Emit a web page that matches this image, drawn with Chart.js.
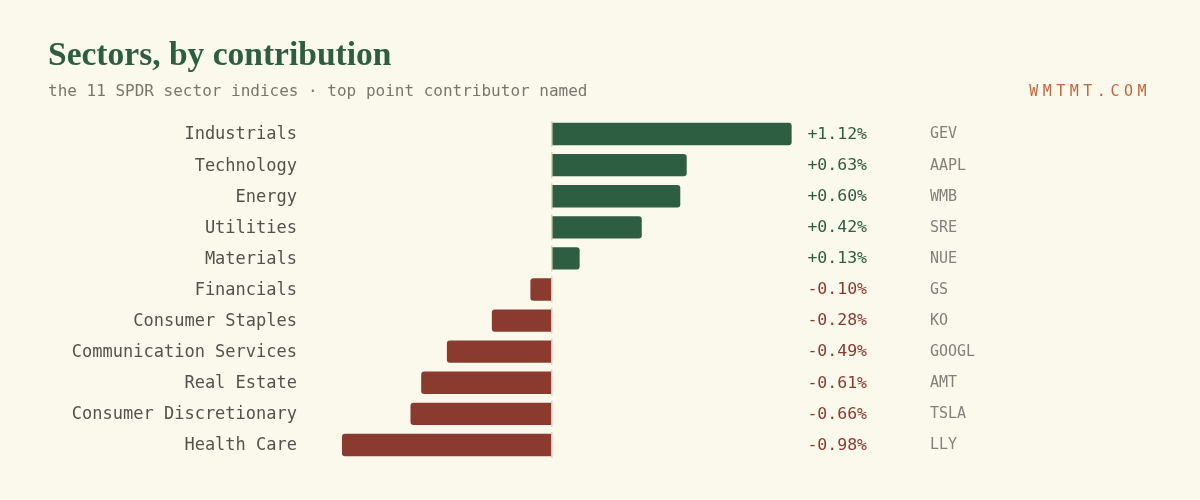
<!DOCTYPE html>
<html>
<head>
<meta charset="utf-8">
<script src="https://cdn.jsdelivr.net/npm/chart.js@4.4.1/dist/chart.umd.min.js"></script>
<style>
  html, body { margin: 0; padding: 0; background: #fbf8ec; }
  #wrap { position: relative; width: 1200px; height: 500px; overflow: hidden; }
  #title { position: absolute; left: 48px; top: 37px; font-family: "Liberation Serif", serif; font-weight: bold; font-size: 33.5px; color: #2e5e42; margin: 0; line-height: 1; }
  #sub { position: absolute; left: 48px; top: 83px; font-family: "DejaVu Sans Mono", monospace; font-size: 16px; color: #7a766c; line-height: 1; }
  #brand { position: absolute; right: 49px; top: 84px; font-family: "DejaVu Sans Mono", monospace; font-size: 15px; letter-spacing: 4.5px; color: #c4643e; line-height: 1; }
  #cv { position: absolute; left: 0; top: 0; }
</style>
</head>
<body>
<div id="wrap">
  <canvas id="cv" width="1200" height="500"></canvas>
  <div id="title">Sectors, by contribution</div>
  <div id="sub">the 11 SPDR sector indices · top point contributor named</div>
  <div id="brand">WMTMT.COM</div>
</div>
<script>
const sectors = ["Industrials","Technology","Energy","Utilities","Materials","Financials","Consumer Staples","Communication Services","Real Estate","Consumer Discretionary","Health Care"];
const contributions = [1.12, 0.63, 0.60, 0.42, 0.13, -0.10, -0.28, -0.49, -0.61, -0.66, -0.98];
const topContributors = ["GEV","AAPL","WMB","SRE","NUE","GS","KO","GOOGL","AMT","TSLA","LLY"];

const GREEN = "#2e5e42";
const RED = "#8b3a30";

const sidePlugin = {
  id: "side",
  afterDatasetsDraw(chart) {
    const ctx = chart.ctx;
    const x = chart.scales.x, y = chart.scales.y;
    const x0 = x.getPixelForValue(0);
    ctx.save();
    ctx.strokeStyle = "#dcd2b8";
    ctx.lineWidth = 1.5;
    sectors.forEach((s, i) => {
      const cy = y.getPixelForValue(i);
      ctx.beginPath();
      ctx.moveTo(x0, cy - 13);
      ctx.lineTo(x0, cy + 13);
      ctx.stroke();
    });
    ctx.textBaseline = "middle";
    sectors.forEach((s, i) => {
      const cy = y.getPixelForValue(i) + 0.5;
      const v = contributions[i];
      ctx.font = "16.5px 'DejaVu Sans Mono', monospace";
      ctx.textAlign = "right";
      ctx.fillStyle = v >= 0 ? GREEN : RED;
      ctx.fillText((v >= 0 ? "+" : "-") + Math.abs(v).toFixed(2) + "%", 867, cy);
      ctx.font = "15px 'DejaVu Sans Mono', monospace";
      ctx.textAlign = "left";
      ctx.fillStyle = "#85817a";
      ctx.fillText(topContributors[i], 930, cy);
      ctx.font = "17px 'DejaVu Sans Mono', monospace";
      ctx.textAlign = "right";
      ctx.fillStyle = "#55524c";
      ctx.fillText(s, 297, cy + 0.5);
    });
    ctx.restore();
  }
};

new Chart(document.getElementById("cv"), {
  type: "bar",
  data: {
    labels: sectors,
    datasets: [{
      data: contributions,
      backgroundColor: contributions.map(v => v >= 0 ? GREEN : RED),
      borderRadius: (c) => {
        const v = contributions[c.dataIndex];
        return v >= 0
          ? { topLeft: 0, bottomLeft: 0, topRight: 3, bottomRight: 3 }
          : { topLeft: 3, bottomLeft: 3, topRight: 0, bottomRight: 0 };
      },
      borderSkipped: false,
      barPercentage: 0.72,
      categoryPercentage: 1.0
    }]
  },
  options: {
    indexAxis: "y",
    responsive: false,
    animation: false,
    devicePixelRatio: 1,
    layout: { padding: { top: 118.5, bottom: 39.5, left: 310, right: 327 } },
    plugins: { legend: { display: false }, tooltip: { enabled: false } },
    scales: {
      x: { display: false, min: -1.1293, max: 1.5 },
      y: { display: false }
    }
  },
  plugins: [sidePlugin]
});
</script>
</body>
</html>
